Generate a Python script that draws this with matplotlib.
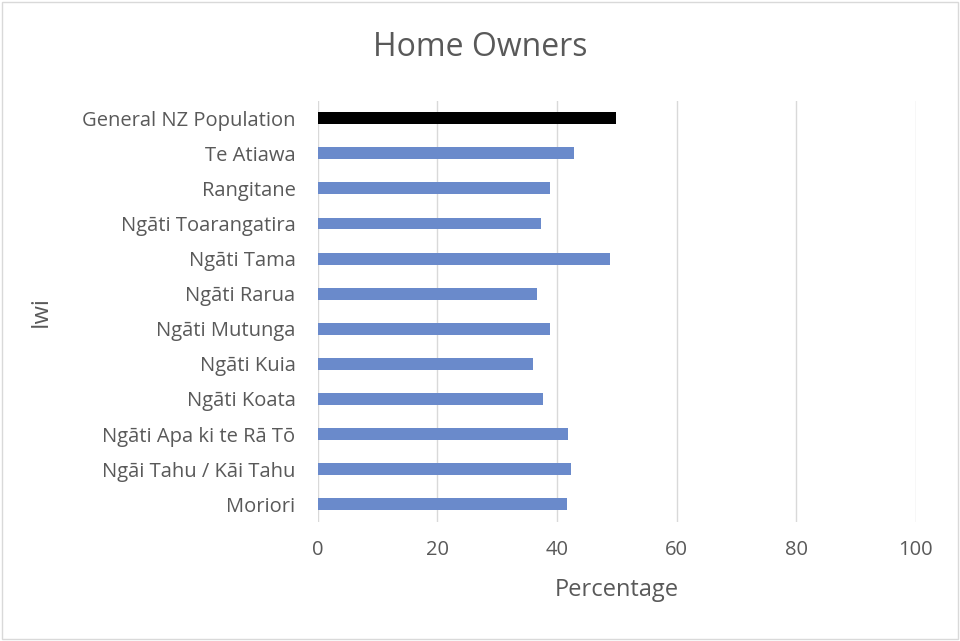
import matplotlib.pyplot as plt
from matplotlib.patches import Rectangle

plt.rcParams['font.family'] = ['Open Sans', 'DejaVu Sans']

# iwi listed bottom to top
iwi = ['Moriori', 'Ngāi Tahu / Kāi Tahu', 'Ngāti Apa ki te Rā Tō', 'Ngāti Koata',
       'Ngāti Kuia', 'Ngāti Mutunga', 'Ngāti Rarua', 'Ngāti Tama',
       'Ngāti Toarangatira', 'Rangitane', 'Te Atiawa', 'General NZ Population']
owners = [41.6, 42.4, 41.9, 37.6, 36.0, 38.9, 36.7, 48.8, 37.3, 38.9, 42.9, 49.9]
bar_colors = ['#6A8ACB'] * 11 + ['#000000']

text_col = '#595959'

fig = plt.figure(figsize=(9.6, 6.41), dpi=100)
ax = fig.add_axes([0.331, 0.186, 0.623, 0.657])

ax.barh(range(len(iwi)), owners, height=0.34, color=bar_colors, zorder=3)

ax.set_xlim(0, 100)
ax.set_ylim(-0.5, len(iwi) - 0.5)
ax.set_xticks([0, 20, 40, 60, 80, 100])
ax.set_yticks(range(len(iwi)))
ax.set_yticklabels(iwi)
ax.grid(axis='x', color='#D9D9D9', linewidth=1, zorder=0)
for s in ax.spines.values():
    s.set_visible(False)
ax.tick_params(axis='both', length=0, labelsize=14.5, labelcolor=text_col)
ax.tick_params(axis='x', pad=13)
ax.tick_params(axis='y', pad=16)

ax.set_xlabel('Percentage', fontsize=17, color=text_col, labelpad=13)
ax.set_ylabel('Iwi', fontsize=17, color=text_col, labelpad=21)
fig.text(0.5, 0.926, 'Home Owners', ha='center', va='center', fontsize=23, color=text_col)

# light frame round the figure
fig.patches.append(Rectangle((0.002, 0.003), 0.996, 0.994, transform=fig.transFigure,
                             fill=False, edgecolor='#D9D9D9', linewidth=1))

fig.savefig('out.png', dpi=100)
